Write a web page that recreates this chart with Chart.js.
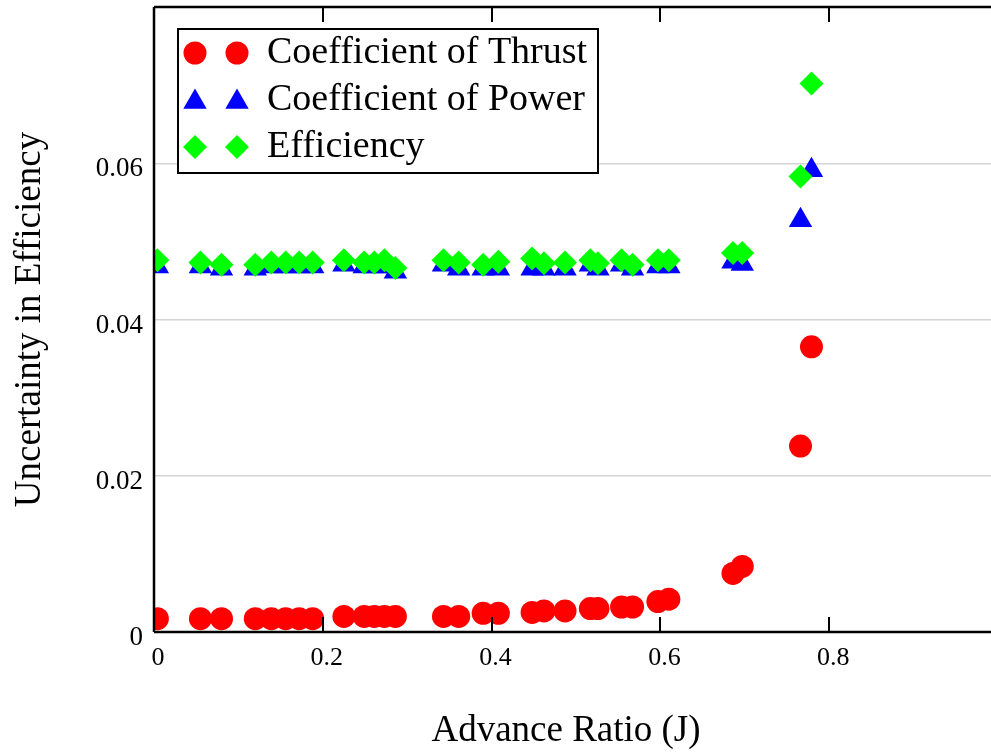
<!DOCTYPE html>
<html>
<head>
<meta charset="utf-8">
<script src="https://cdn.jsdelivr.net/npm/chart.js@4.4.1/dist/chart.umd.min.js"></script>
<style>
  html, body { margin: 0; padding: 0; background: #fff; overflow: hidden; }
  #wrap { width: 998px; height: 752px; }
</style>
</head>
<body>
<div id="wrap"><canvas id="c" width="998" height="752"></canvas></div>
<script>
// ---- Data ----
const advanceRatio = [0.004,0.055,0.080,0.120,0.139,0.156,0.172,0.188,0.225,0.249,0.261,0.273,0.286,0.343,0.361,0.390,0.408,0.448,0.462,0.487,0.517,0.526,0.554,0.567,0.597,0.610,0.686,0.697,0.766,0.779];
const thrustUnc = [0.0017,0.0017,0.0017,0.0017,0.0017,0.0017,0.0017,0.0017,0.0020,0.0020,0.0020,0.0020,0.0020,0.0020,0.0020,0.0024,0.0024,0.0025,0.0027,0.0027,0.0030,0.0030,0.0032,0.0032,0.0039,0.0042,0.0075,0.0084,0.0238,0.0365];
const powerUnc = [0.0468,0.0468,0.0465,0.0465,0.0468,0.0468,0.0468,0.0468,0.0470,0.0468,0.0468,0.0468,0.0461,0.0470,0.0465,0.0465,0.0465,0.0465,0.0465,0.0465,0.0470,0.0465,0.0470,0.0465,0.0468,0.0468,0.0474,0.0471,0.0527,0.0591];
const efficiencyUnc = [0.0476,0.0473,0.0470,0.0470,0.0473,0.0473,0.0473,0.0473,0.0476,0.0473,0.0473,0.0476,0.0466,0.0476,0.0473,0.0470,0.0474,0.0478,0.0472,0.0473,0.0476,0.0472,0.0476,0.0470,0.0476,0.0476,0.0485,0.0485,0.0583,0.0702];
const seriesNames = ['Coefficient of Thrust', 'Coefficient of Power', 'Efficiency'];
const xTickValues = [0, 0.2, 0.4, 0.6, 0.8];
const xTickLabels = ['0', '0.2', '0.4', '0.6', '0.8'];
const yTickValues = [0, 0.02, 0.04, 0.06];
const yTickLabels = ['0', '0.02', '0.04', '0.06'];
const xTitle = 'Advance Ratio (J)';
const yTitle = 'Uncertainty in Efficiency';

const SERIF = "'Liberation Serif', 'Times New Roman', serif";
const toPts = ys => advanceRatio.map((x, i) => ({ x: x, y: ys[i] }));

const datasets = [
  { label: seriesNames[0], data: toPts(thrustUnc), pointStyle: 'circle', pointRadius: 11.5,
    backgroundColor: '#ff0000', borderColor: '#ff0000', borderWidth: 0, order: 2 },
  { label: seriesNames[1], data: toPts(powerUnc), pointStyle: 'triangle', pointRadius: 13.5,
    backgroundColor: '#0000ff', borderColor: '#0000ff', borderWidth: 0, order: 1 },
  { label: seriesNames[2], data: toPts(efficiencyUnc), pointStyle: 'rectRot', pointRadius: 12,
    backgroundColor: '#00ff00', borderColor: '#00ff00', borderWidth: 0, order: 0 }
];
datasets.forEach(d => { d.showLine = false; d.clip = 0; d.pointHoverRadius = d.pointRadius; });

// Frame, inward ticks, legend box and x-axis title
const framePlugin = {
  id: 'frame',
  afterDatasetsDraw(chart) {
    const ctx = chart.ctx, a = chart.chartArea, xs = chart.scales.x;
    ctx.save();
    // legend
    const lx = 178, ly = 29, lw = 420, lh = 144;
    ctx.fillStyle = '#fff';
    ctx.fillRect(lx, ly, lw, lh);
    ctx.strokeStyle = '#000';
    ctx.lineWidth = 2;
    ctx.strokeRect(lx, ly, lw, lh);
    const rowY = [53, 102, 147];
    chart.data.datasets.forEach((d, i) => {
      const st = { pointStyle: d.pointStyle, radius: d.pointRadius, borderWidth: 0 };
      ctx.fillStyle = d.backgroundColor;
      ctx.strokeStyle = d.backgroundColor;
      [195, 237].forEach(px => {
        Chart.helpers.drawPoint(ctx, st, px, rowY[i]);
      });
      ctx.fillStyle = '#000';
      ctx.font = '38px ' + SERIF;
      ctx.textBaseline = 'middle';
      ctx.textAlign = 'left';
      ctx.fillText(d.label, 267, i === 1 ? 100 : rowY[i]);
    });
    // frame lines
    ctx.strokeStyle = '#000';
    ctx.lineWidth = 2.5;
    ctx.beginPath();
    ctx.moveTo(a.left, a.top); ctx.lineTo(a.right + 2, a.top);
    ctx.moveTo(a.left, a.top); ctx.lineTo(a.left, a.bottom);
    ctx.moveTo(a.left, a.bottom); ctx.lineTo(a.right + 2, a.bottom);
    ctx.stroke();
    // inward ticks on top and bottom
    ctx.lineWidth = 2;
    ctx.beginPath();
    xTickValues.forEach(v => {
      if (v <= 0) return;
      const px = Math.round(xs.getPixelForValue(v));
      ctx.moveTo(px, a.bottom); ctx.lineTo(px, a.bottom - 15);
      ctx.moveTo(px, a.top); ctx.lineTo(px, a.top + 15);
    });
    ctx.stroke();
    // x-axis title
    ctx.fillStyle = '#000';
    ctx.font = '37px ' + SERIF;
    ctx.textAlign = 'center';
    ctx.textBaseline = 'middle';
    ctx.fillText(xTitle, 566, 731);
    ctx.restore();
  }
};

new Chart(document.getElementById('c'), {
  type: 'scatter',
  data: { datasets: datasets },
  options: {
    responsive: false,
    animation: false,
    devicePixelRatio: 1,
    layout: { autoPadding: false, padding: { top: 7, right: 0, left: 0, bottom: 0 } },
    plugins: { legend: { display: false }, tooltip: { enabled: false } },
    scales: {
      x: {
        type: 'linear', min: 0, max: 1,
        afterFit(s) { s.height = 120; s.paddingLeft = 0; s.paddingRight = 0; },
        afterBuildTicks(s) { s.ticks = xTickValues.map(v => ({ value: v })); },
        grid: { display: false, drawTicks: false },
        border: { display: false },
        ticks: {
          font: { family: SERIF, size: 26 }, color: '#000',
          padding: 11, labelOffset: 4, maxRotation: 0, autoSkip: false,
          callback: (v, i) => xTickLabels[i]
        },
        title: { display: false }
      },
      y: {
        type: 'linear', min: 0, max: 0.08,
        afterFit(s) { s.width = 154; s.paddingTop = 0; s.paddingBottom = 0; },
        afterBuildTicks(s) { s.ticks = yTickValues.map(v => ({ value: v })); },
        grid: { display: true, drawTicks: false, color: '#d4d4d4', lineWidth: 1.5 },
        border: { display: false },
        ticks: {
          font: { family: SERIF, size: 27 }, color: '#000',
          padding: 11, labelOffset: 6, autoSkip: false,
          callback: (v, i) => yTickLabels[i]
        },
        title: { display: true, text: yTitle, color: '#000',
          font: { family: SERIF, size: 37 }, padding: { top: 8, bottom: 0 } }
      }
    }
  },
  plugins: [framePlugin]
});
</script>
</body>
</html>
